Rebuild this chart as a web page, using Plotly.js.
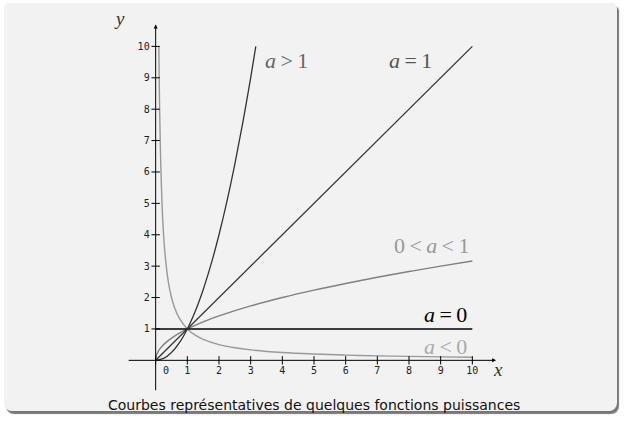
<!DOCTYPE html>
<html>
<head>
<meta charset="utf-8">
<script src="https://cdn.plot.ly/plotly-3.0.1.min.js"></script>
<style>
html,body{margin:0;padding:0;background:#ffffff;width:624px;height:422px;overflow:hidden;}
#card{position:absolute;left:4px;top:3px;width:613px;height:408px;background:#f2f2f2;border-radius:5px 5px 8px 8px;box-shadow:2px 3px 1px #777;}
#plot{position:absolute;left:0;top:0;width:624px;height:422px;}
</style>
</head>
<body>
<div id="card"></div>
<div id="plot"></div>
<script>
// Curve points
const xPowGt1 = [0,0.25,0.5,0.75,1,1.25,1.5,1.75,2,2.25,2.5,2.75,3,3.162];
const yPowGt1 = [0,0.0625,0.25,0.5625,1,1.5625,2.25,3.0625,4,5.0625,6.25,7.5625,9,10];
const xPow1 = [0,10];
const yPow1 = [0,10];
const xPowMid = [0,0.02,0.06,0.15,0.3,0.5,0.75,1,1.5,2,3,4,5,6,7,8,9,10];
const yPowMid = [0,0.141,0.245,0.387,0.548,0.707,0.866,1,1.225,1.414,1.732,2,2.236,2.449,2.646,2.828,3,3.162];
const xPow0 = [0,10];
const yPow0 = [1,1];
const xPowNeg = [0.1,0.11,0.125,0.15,0.2,0.25,0.3,0.4,0.5,0.6,0.75,1,1.25,1.5,2,2.5,3,4,5,6,7,8,9,10];
const yPowNeg = [10,9.091,8,6.667,5,4,3.333,2.5,2,1.667,1.333,1,0.8,0.667,0.5,0.4,0.333,0.25,0.2,0.167,0.143,0.125,0.111,0.1];

const xTicks = [0,1,2,3,4,5,6,7,8,9,10];
const xTickLabels = ['','1','2','3','4','5','6','7','8','9','10'];
const yTicks = [1,2,3,4,5,6,7,8,9,10];
const yTickLabels = ['1','2','3','4','5','6','7','8','9','10'];

const curveLabels = ['<i>a</i>\u2009>\u20091','<i>a</i>\u2009=\u20091','0\u2009<\u2009<i>a</i>\u2009<\u20091','<i>a</i>\u2009=\u20090','<i>a</i>\u2009<\u20090'];
const labelX = [3.4, 8.8, 9.95, 9.9, 9.9];
const labelY = [9.55, 9.55, 3.66, 1.46, 0.45];
const labelColors = ['#666','#555','#999','#000','#aaa'];
const labelAnchors = ['left','right','right','right','right'];

const xr = [-1, 11], yr = [-1.2, 11];
const traces = [
  {x:xPowNeg, y:yPowNeg, mode:'lines', line:{color:'#999', width:1.4, shape:'spline'}},
  {x:xPowMid, y:yPowMid, mode:'lines', line:{color:'#808080', width:1.4, shape:'spline'}},
  {x:xPow0, y:yPow0, mode:'lines', line:{color:'#000', width:1.5}},
  {x:xPow1, y:yPow1, mode:'lines', line:{color:'#333', width:1.3}},
  {x:xPowGt1, y:yPowGt1, mode:'lines', line:{color:'#333', width:1.3, shape:'spline'}},
  {x:xTicks, y:xTicks.map(()=>0), mode:'markers', marker:{symbol:'line-ns', size:6, line:{width:1, color:'#000'}}},
  {x:yTicks.map(()=>0), y:yTicks, mode:'markers', marker:{symbol:'line-ew', size:6, line:{width:1, color:'#000'}}}
];

const ann = curveLabels.map((t,i)=>({x:labelX[i], y:labelY[i], text:t, showarrow:false, xanchor:labelAnchors[i], yanchor:'middle',
  font:{family:'Liberation Serif, DejaVu Serif, serif', size:22, color:labelColors[i]}}));
// axis arrows
ann.push({x:10.75, y:0, ax:-0.9, ay:0, axref:'x', ayref:'y', xref:'x', yref:'y', showarrow:true, arrowhead:2, arrowsize:0.8, arrowwidth:1, arrowcolor:'#000', text:''});
ann.push({x:0, y:10.7, ax:0, ay:-1.0, axref:'x', ayref:'y', xref:'x', yref:'y', showarrow:true, arrowhead:2, arrowsize:0.8, arrowwidth:1, arrowcolor:'#000', text:''});
ann.push({x:10.6, y:-0.3, text:'<i>x</i>', showarrow:false, xanchor:'left', yanchor:'middle', font:{family:'Liberation Serif, serif', size:19, color:'#333'}});
ann.push({x:-0.9, y:10.9, text:'<i>y</i>', showarrow:false, xanchor:'right', yanchor:'middle', font:{family:'Liberation Serif, serif', size:19, color:'#333'}});
ann.push({x:0.17, y:-0.32, text:'0', showarrow:false, xanchor:'left', yanchor:'middle', font:{family:'DejaVu Sans Mono, monospace', size:10, color:'#222'}});
ann.push({xref:'paper', yref:'paper', x:0.5, y:-0.017, text:'Courbes représentatives de quelques fonctions puissances', showarrow:false, xanchor:'center', yanchor:'middle', font:{family:'DejaVu Sans, sans-serif', size:14, color:'#111'}});

const yZeroFrac = (0 - yr[0])/(yr[1]-yr[0]);
const xZeroFrac = (0 - xr[0])/(xr[1]-xr[0]);
const layout = {
  width:624, height:422,
  margin:{l:124.4, r:120.4, t:14.6, b:24.3},
  paper_bgcolor:'rgba(0,0,0,0)', plot_bgcolor:'rgba(0,0,0,0)',
  showlegend:false,
  xaxis:{range:xr, showgrid:false, zeroline:false, showline:false, ticks:'', tickvals:xTicks, ticktext:xTickLabels,
    anchor:'free', position:yZeroFrac, tickfont:{family:'DejaVu Sans Mono, monospace', size:10, color:'#222'}, ticklabelstandoff:3, fixedrange:true},
  yaxis:{range:yr, showgrid:false, zeroline:false, showline:false, ticks:'', tickvals:yTicks, ticktext:yTickLabels,
    anchor:'free', position:xZeroFrac, tickfont:{family:'DejaVu Sans Mono, monospace', size:10, color:'#222'}, ticklabelstandoff:6, fixedrange:true},
  annotations:ann
};
Plotly.newPlot('plot', traces, layout, {staticPlot:true, displayModeBar:false});
</script>
</body>
</html>
